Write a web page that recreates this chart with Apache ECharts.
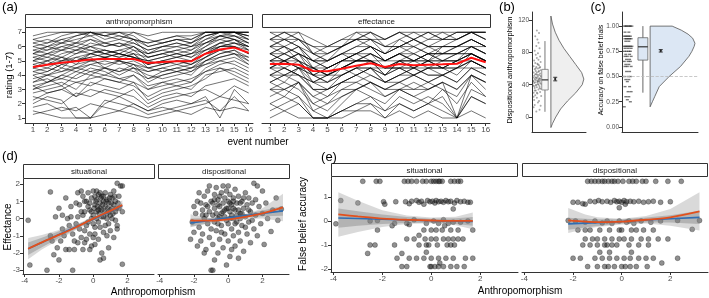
<html>
<head>
<meta charset="utf-8">
<title>anthropomorphism / effectance figure</title>
<script src="https://cdn.jsdelivr.net/npm/echarts@6/dist/echarts.min.js"></script>
</head>
<body style="margin:0">
<div id="main" style="width:709px;height:298px"></div>
<script>
// ---- data ----
var aEvents = [1,2,3,4,5,6,7,8,9,10,11,12,13,14,15,16];
var aTicksY = [1,2,3,4,5,6,7];
var aAnthroMean = [4.57,4.73,4.87,4.97,5.1,5.13,5.13,5.13,4.85,4.92,4.97,4.97,5.5,5.8,5.93,5.57];
var aEffectMean = [4.78,4.8,4.73,4.29,4.27,4.45,4.66,4.83,4.57,4.78,4.69,4.73,4.76,4.8,5.22,4.9];

// individual participants (a subset of the lines)
var aAnthroRows = [
[6.5,6.75,7,7,7,6.75,7,6.5,6.25,6.5,6.75,6.5,7,7,7,7],
[5.5,5.75,6,6.25,6.5,6,6.25,6,5.5,5.75,6,5.75,6.5,7,7,6.5],
[4.5,5,5.25,4.75,5.5,5.25,5,5.5,4.75,5,5.25,5,5.75,6.25,6.5,6],
[3,3.5,4,3.75,4.25,4.5,4,4.5,3.5,4,4.25,4,5,5.5,5.75,5],
[6,6.25,6.5,6.75,7,6.5,6.75,6.5,6,6.25,6.5,6.25,6.75,7,7,6.75],
[5,5.25,5,5.5,5.75,5.5,5.25,5.75,5,5.25,5.5,5.25,6,6.5,6.25,6],
[2,2.5,2.25,1,1,2,2.5,2,1.5,2,2.25,2,2.5,1,3,2],
[4,4.25,4.75,5,5.25,4.5,5,4.75,4.25,4.5,4.75,4.5,5.25,6,6,5.5],
[5.75,6,6.25,6.5,6.75,6.25,6.5,6.25,5.75,6,6,6.25,6.75,7,7,6.75],
[3.5,3.75,3.25,4,4.5,4.25,3.75,4,3,3.5,3.75,3.5,4.5,5,4.75,4.25],
[1.5,1.25,1,1,1,1.25,1.5,1.25,1,1.25,1.5,1.25,1.75,1.5,1.75,1.5],
[6.75,7,7,7,7,7,7,7,6.75,7,7,7,7,7,7,7],
[4.75,5,4.5,5.25,5.5,5.75,5.5,5.25,5,4.75,5,4.75,5.5,6,6.25,5.75],
[2.75,3,3.25,2.5,3.5,3.25,3,3.5,2.25,2.75,3,3.25,3.75,4.5,4,3.5],
[5.25,5.5,5.75,6,5.75,5.5,5.75,5.5,5.25,5.5,5.25,5.5,6.25,6.75,6.5,6.25],
[4.25,4,4.5,4.25,4.75,5,4.75,5,4.5,4.25,4.5,4.75,5.25,5.75,5.5,5.25],
[3.25,2.75,3,3.5,3.25,3.75,3.5,3.25,2.5,3,3.25,3,4,4.25,4.5,4],
[6.25,6.5,6.25,6.75,7,6.75,6.5,7,6.5,6.25,6.5,6.5,7,7,7,7],
[5,4.75,5.25,5,5.5,5.25,5.5,5.25,4.75,5,5.25,5.5,5.75,6.25,6.5,5.75],
[2.5,2.25,2,2.75,2.5,3,2.75,2.5,1.75,2.25,2.5,2.75,3,2.5,3.25,2.75],
[4.5,4.75,5,5.25,5,5.25,5.5,5.25,4.75,5,4.75,5,5.5,6,6,5.75],
[5.5,6,5.75,6.25,6,6.25,6,6.25,5.75,6,6.25,6,6.5,6.75,7,6.5],
[3.75,4,4.25,4.5,4.75,4.5,4.25,4.5,4,3.75,4,4.25,4.75,5.25,5.5,5],
[1.75,2,1.5,1.75,1,2.25,2,1.75,1.25,1.5,1.75,2,2.25,1.5,2.5,1.5],
[6,5.75,6.25,6,6.5,6.25,6,6.5,5.5,6,6.25,6,6.75,7,6.75,6.5],
[4.25,4.5,4.25,4.75,5,4.75,5,4.5,4.25,4.5,4.25,4.5,5,5.5,5.75,5.25],
[5.25,5,5.5,5.75,6,5.5,5.75,6,5.25,5.5,5.75,5.5,6,6.75,6.75,6.25],
[3,3.25,3.5,3,4,3.75,3.5,4,3.25,3.5,3.25,3.5,4.25,4.75,5,4.5],
[6.5,6.25,6.75,7,6.75,7,6.75,6.5,6.25,6.5,6.75,6.75,7,7,7,7],
[4.75,4.5,5,5,5.25,5.5,5.25,5.5,4.5,4.75,5,5,5.5,6.25,6,5.5],
[2.25,2.75,3,2.5,3,2.75,2.5,3,2,2.5,2.75,2.5,3.25,3.5,3.75,3.25],
[5.75,5.5,6,5.75,6.25,6,6.25,5.75,5.5,5.75,5.5,5.75,6.25,6.5,6.75,6.25],
[3.5,4,3.75,4.25,4,4.5,4.25,4.75,3.75,4.25,4.5,4.25,5,5.25,5.5,4.75],
[5,5.5,5.25,5.75,5.5,5.75,5.5,5.25,5,5.25,5.5,5.25,5.75,6,6.25,6],
[4,3.5,4,4.5,4.25,4,4.5,4.25,3.75,4,4.25,4.5,4.75,5,5.25,4.75],
[6.25,6,6.5,6.25,7,6.75,7,6.75,6,6.25,6.5,6.25,7,7,7,6.75],
[1.25,1.5,1.75,1.5,2,1.75,1.5,2,1.5,1.75,1.5,1.75,2,2.5,2.25,2],
[4.5,4.25,4.75,4.5,5,5.25,5,4.75,4.5,4.75,5,4.75,5.25,5.75,6,5.5],
[5.5,5.25,5.75,5.5,6,5.75,5.5,6,5.25,5.5,5.75,6,6.25,6.75,6.5,6],
[3.25,3.5,3.75,3.5,3.75,4,3.75,3.5,3,3.25,3.5,3.75,4.25,4.5,4.25,3.75]
];
var aEffectRows = [
[5.5,6,5,4,4.5,5,5.5,6,5,5.5,5,5.5,5,5,6,5.5],
[6.5,7,7,5.5,5,6,6.5,7,6,6.5,7,6.5,7,6.5,7,7],
[4,4.5,4,3,2.5,3.5,4,4.5,3.5,4,4.5,4,4,4.5,5,4.5],
[3,2.5,3.5,1.5,1,2,3,3.5,2.5,3,2.5,3,3.5,1,4,3],
[5,5.5,6,4.5,5,5.5,5,5.5,5,5,5.5,6,5.5,6,6.5,6],
[6,5.5,6,5,4.5,5,5.5,6,5.5,6,5.5,5,6,6,6.5,6],
[2,2.5,2,1,1,1.5,2,2.5,1.5,2.5,2,2.5,2,1,3,2.5],
[4.5,5,4.5,4,3.5,4.5,5,5,4,5,4.5,5,5,5.5,5.5,5],
[7,7,6.5,6,6,6.5,7,7,6.5,7,7,7,6.5,7,7,7],
[3.5,4,3.5,2.5,3,3.5,4,3.5,3,3.5,4,3.5,4,3.5,4.5,4],
[5,4.5,5,4.5,4,4.5,5,5,4.5,5,4.5,5,4.5,5,5.5,5],
[6,6.5,6,5,5.5,6,6.5,6,5.5,6,6.5,6,6.5,6.5,7,6.5],
[4,3.5,4.5,3.5,3,4,4.5,4,3.5,4,4,4.5,4,4.5,5,4.5],
[1.5,2,2.5,1,1,1.5,2,2,1,2,1.5,2,2.5,1,2.5,2],
[5.5,5,5.5,5,4.5,5,5.5,5.5,5,5.5,5,5.5,5.5,5.5,6,5.5],
[6.5,6,6.5,5.5,6,6,6.5,6.5,6,6,6.5,6,6,6.5,7,6.5],
[3,3.5,3,2,2.5,3,3,3.5,3,3,3.5,3,3.5,3,4,3.5],
[4.5,4,4.5,4.5,4,4.5,4,4.5,4.5,4.5,4,4.5,4.5,5,5,4.5],
[5.5,6,5.5,4.5,4,5,5.5,6,5,5.5,6,5.5,5.5,6,6,6],
[2.5,3,2.5,1.5,2,2.5,3,2.5,2,3,2.5,2,3,2,3.5,2.5],
[5,5,5.5,4,4,4.5,5,5,4.5,5,5,5,5,5,5.5,5],
[7,6.5,7,6.5,6,6.5,6.5,7,6.5,7,6.5,7,7,7,7,7],
[4,4.5,4,3.5,3.5,4,4.5,4.5,4,4.5,4,4.5,4.5,4,5,4.5],
[3.5,3,3.5,2,1.5,2.5,3,3.5,3,3.5,3,3.5,3,2.5,4,3.5],
[6,6,5.5,5,5,5.5,6,6,5.5,6,6,5.5,6,6,6.5,6],
[4.5,5,5,3.5,4,4.5,5,5,4.5,4.5,5,5,4.5,5,5.5,5],
[5.5,5.5,5,4.5,4.5,5,5,5.5,5,5.5,5.5,5,5.5,5.5,6,5.5],
[2,1.5,2,1,1,1.5,1.5,2,1.5,2,1.5,2,1.5,1,2.5,2],
[6.5,6.5,6,5.5,5.5,6,6.5,6.5,5.5,6.5,6,6.5,6.5,6.5,7,6.5],
[4,4,4.5,3,3,3.5,4,4.5,3.5,4,4.5,4,4,4.5,4.5,4.5],
[5,5.5,5,4,4.5,5,5,5.5,4.5,5,5,5.5,5,5.5,5.5,5],
[3,3,3.5,2.5,2,3,3.5,3,2.5,3,3,3,3.5,3,4,3.5],
[6,6.5,6.5,5.5,5,5.5,6,6.5,6,6,6.5,6,6,6,6.5,6],
[4.5,4.5,4,3.5,4,4,4.5,4.5,4,4.5,4.5,4.5,4.5,4.5,5,4.5],
[5.5,5,5.5,5,5,5.5,5.5,5,5,5.5,5,5.5,5.5,5.5,6,5.5],
[1,1.5,1,1,1,1,1.5,1.5,1,1.5,1,1.5,1,1,1.5,1],
[5,5,4.5,4.5,4,4.5,5,5,4,5,5,4.5,5,5,5.5,5],
[6.5,7,6.5,6,5.5,6,7,6.5,6.5,7,6.5,7,6.5,7,7,7],
[3.5,4,4,3,3,3.5,3.5,4,3.5,3.5,4,3.5,4,3.5,4.5,4],
[4.5,5,4.5,4,3.5,4,4.5,5,4.5,4.5,4.5,5,4.5,4.5,5.5,5]
];

// (b) dispositional anthropomorphism: jittered points [jitter, value]
var bTicks = [0,40,80,120];
var bPoints = [[3,12],[8,7],[14,9],[5,15],[11,18],[16,14],[4,21],[9,24],[13,20],[17,26],[6,27],[10,29],[15,31],[3,30],[7,33],[12,34],[16,35],[5,36],[9,37],[14,38],[2,39],[8,40],[11,41],[17,41],[4,42],[6,43],[10,43],[13,44],[15,45],[3,45],[7,46],[12,46],[16,47],[5,47],[9,48],[14,48],[2,49],[8,49],[11,50],[17,50],[4,51],[10,52],[13,52],[6,53],[15,54],[3,55],[9,55],[12,56],[7,57],[16,58],[5,59],[11,60],[14,61],[8,62],[3,63],[13,64],[10,66],[6,67],[16,68],[4,70],[12,71],[9,73],[15,75],[7,77],[11,79],[5,82],[14,85],[8,88],[12,92],[10,96],[6,100],[13,104],[9,107],[4,38],[7,39],[12,40],[15,42],[2,44],[10,45],[13,47],[6,49],[16,51],[8,53],[11,44],[14,36],[5,33],[9,30],[13,57],[7,60],[3,25],[11,65],[15,62]];
var bBox = [6.5, 33.5, 46, 59, 94];          // min, q1, median, q3, max
var bMean = [47, 44.8, 49.2];                 // mean, lower, upper
var bDensY = [-13,-8,0,10,20,30,40,47,55,65,75,85,95,105,115,125];
var bDensW = [0,3,9,18,31,46,58,61,57,46,35,24,15,8,3,0];

// (c) accuracy on false belief trials
var cTicks = [0,0.25,0.5,0.75,1];
var cPoints = [[3,1],[5,1],[6,1],[8,1],[10,1],[11,1],[13,1],[4,0.94],[9,0.94],[3,0.9],[5,0.9],[7,0.9],[9,0.9],[11,0.9],[4,0.875],[6,0.875],[8,0.875],[10,0.875],[12,0.875],[5,0.85],[9,0.85],[3,0.8],[5,0.8],[7,0.8],[9,0.8],[11,0.8],[13,0.8],[4,0.78],[8,0.78],[12,0.78],[3,0.75],[6,0.75],[9,0.75],[11,0.75],[5,0.72],[10,0.72],[4,0.7],[7,0.7],[12,0.7],[6,0.67],[10,0.67],[3,0.65],[8,0.65],[11,0.65],[5,0.62],[9,0.62],[4,0.6],[7,0.6],[12,0.6],[6,0.55],[10,0.55],[3,0.5],[8,0.5],[11,0.5],[5,0.47],[9,0.47],[7,0.45],[4,0.4],[10,0.4],[8,0.35],[12,0.35],[5,0.3],[9,0.3],[7,0.27],[11,0.25],[3,0.2]];
var cBox = [0.34, 0.663, 0.795, 0.885, 1.0];
var cMean = [0.755, 0.743, 0.767];
var cDensY = [0.2,0.25,0.3,0.4,0.5,0.6,0.7,0.75,0.8,0.83,0.88,0.92,0.96,1.0];
var cDensW = [0,3,6,12,25,40,51,55,58,59,56,50,41,29];

// (d) effectance vs anthropomorphism
var dTicksX = [-4,-2,0,2];
var dTicksY = [-3,-2,-1,0,1,2];
var dSitPoints = [[-3.8,-0.1],[-3.7,-2.7],[-2.7,-3.0],[-2.5,1.55],[-1.2,-3.0],[1.7,-2.65],[-2.0,0.6],[-2.2,0.1],[-1.8,0.2],[-1.6,1.2],[-1.5,0.0],[-1.3,0.7],[-2.4,-1.3],[-2.3,-2.1],[-2.1,-1.7],[-2.0,-2.4],[-1.9,-1.3],[-1.7,-1.0],[-1.6,-1.8],[-1.4,-1.8],[-1.2,-0.9],[-1.1,-1.3],[-1.0,-0.3],[-0.9,0.1],[-0.8,-0.6],[-0.8,0.8],[-0.7,1.6],[-0.6,1.3],[-0.5,-1.4],[-0.5,0.4],[-0.4,1.0],[-0.3,-0.2],[-0.3,1.5],[-0.2,0.5],[-0.2,-0.9],[-0.1,1.2],[-0.1,-1.6],[0.0,0.2],[0.0,1.6],[0.1,0.8],[0.1,-0.5],[0.2,1.1],[0.2,0.4],[0.3,1.4],[0.3,-0.2],[0.4,0.9],[0.4,0.6],[0.5,1.3],[0.5,0.1],[0.6,1.0],[0.6,-0.8],[0.7,0.7],[0.7,1.5],[0.8,0.3],[0.8,1.1],[0.9,0.9],[0.9,-0.3],[1.0,1.4],[1.0,0.5],[1.1,1.2],[1.1,0.0],[1.2,0.8],[1.2,1.6],[1.3,0.4],[1.3,1.0],[1.4,2.05],[1.4,-0.6],[1.5,1.3],[1.5,0.6],[1.6,1.9],[1.7,0.4],[1.7,1.9],[-0.6,-1.8],[-0.4,-1.2],[-0.2,-1.8],[0.0,-1.1],[0.1,-1.5],[0.3,-1.2],[0.5,-2.0],[0.6,-2.3],[0.8,-1.0],[0.9,-1.7],[1.0,-0.7],[1.2,-1.1],[1.4,-0.4],[-1.0,0.9],[-0.9,1.5],[-0.6,0.2],[-0.4,-0.4],[-0.1,0.0],[0.05,0.6],[0.15,1.0],[0.25,0.7],[0.35,0.3],[0.45,1.2],[0.55,0.8],[0.65,0.4],[0.75,1.0],[0.85,0.6],[0.95,1.2],[1.05,0.9],[1.15,0.3],[1.25,1.3],[1.35,0.6],[1.45,0.9],[0.2,0.0],[0.4,-0.5],[0.6,0.1],[-0.3,0.7],[-0.5,1.0],[-0.7,0.4],[-1.4,-0.4],[-1.8,-0.6],[-2.5,-1.0],[-1.3,0.1],[-0.9,-1.4],[-0.2,0.9],[0.0,-0.3],[0.3,0.5],[0.7,-0.4],[1.0,0.2],[1.3,-0.1],[0.1,1.3],[0.5,0.5],[0.8,0.0],[-0.1,0.4],[0.6,1.3],[0.9,0.4],[1.1,0.6],[0.2,1.6],[0.4,1.5],[-1.1,-1.8],[-0.7,-1.1],[0.1,-0.9],[0.4,-2.4],[-0.5,-0.7]];
var dDisPoints = [[-2.2,-1.2],[-2.1,-0.2],[-2.0,0.7],[-1.9,0.3],[-1.8,1.0],[-1.7,-0.5],[-1.6,-1.3],[-1.5,0.5],[-1.5,-0.9],[-1.4,1.3],[-1.4,0.0],[-1.3,-1.8],[-1.3,0.8],[-1.2,-0.3],[-1.2,1.6],[-1.1,0.4],[-1.1,-1.1],[-1.0,-3.0],[-1.0,1.0],[-0.9,-3.0],[-0.9,0.2],[-0.9,-1.5],[-0.8,-2.4],[-0.8,1.4],[-0.8,0.6],[-0.7,-0.7],[-0.7,1.8],[-0.6,0.0],[-0.6,1.1],[-0.6,-2.0],[-0.5,0.7],[-0.5,-1.2],[-0.4,1.5],[-0.4,0.3],[-0.4,-0.4],[-0.3,0.9],[-0.3,-1.7],[-0.2,1.2],[-0.2,0.1],[-0.2,-0.9],[-0.1,-2.7],[-0.1,0.6],[-0.1,1.6],[0.0,-0.3],[0.0,1.0],[0.0,-1.3],[0.1,0.4],[0.1,1.4],[0.1,-2.2],[0.2,-0.6],[0.2,0.8],[0.3,1.2],[0.3,-1.0],[0.3,0.0],[0.4,0.5],[0.4,1.7],[0.4,-1.6],[0.5,-0.2],[0.5,0.9],[0.6,1.3],[0.6,-0.8],[0.7,0.3],[0.7,-1.3],[0.8,1.0],[0.8,-0.4],[0.9,0.6],[0.9,-1.9],[1.0,1.5],[1.0,0.1],[1.1,-0.9],[1.1,0.8],[1.2,1.2],[1.2,-0.2],[1.3,0.4],[1.3,-1.4],[1.4,0.9],[1.5,2.05],[1.5,-0.6],[1.6,0.2],[1.7,1.9],[1.7,-1.0],[1.8,0.7],[1.9,-0.3],[2.0,1.6],[2.0,0.3],[2.1,-1.5],[2.2,0.9],[2.3,0.0],[2.5,-0.75],[2.6,0.5],[2.8,1.2],[2.9,-0.1],[3.1,0.55],[-1.6,0.9],[-1.3,0.2],[-1.0,-0.6],[-0.7,0.3],[-0.5,1.3],[-0.3,0.4],[-0.1,-0.1],[0.1,0.9],[0.3,0.6],[0.5,0.2],[0.7,0.9],[0.9,1.2],[-1.7,1.5],[-1.1,1.9],[-0.6,0.8],[-0.2,0.5],[0.2,0.2],[0.6,0.5],[-0.9,0.9],[-0.4,-0.8],[0.0,0.6],[0.4,-0.3],[0.8,0.3],[-1.8,-1.6],[-1.4,-2.0],[-0.8,-0.2],[0.2,-1.8],[0.6,-2.3],[1.0,-0.5],[1.4,-0.1],[-0.3,1.9],[0.0,1.9],[-1.2,0.7],[-0.8,1.1],[0.3,1.0],[0.7,0.0],[1.2,0.5],[-0.5,0.1],[-1.5,0.2],[-2.0,-0.8],[1.6,1.1],[-0.6,-0.3],[0.1,0.0]];
var dSitX = [-3.8,-3,-2,-1,0,1,1.7];
var dSitLoess = [-1.75,-1.38,-0.95,-0.5,0.0,0.45,0.78];
var dSitLm = [-1.75,-1.39,-0.93,-0.48,-0.02,0.43,0.75];
var dSitLoessSe = [0.62,0.42,0.28,0.16,0.1,0.15,0.28];
var dSitLmSe = [0.36,0.28,0.2,0.12,0.07,0.1,0.16];
var dDisX = [-2.2,-1.5,-1,0,1,2,3.2];
var dDisLoess = [-0.1,-0.12,-0.12,-0.05,0.1,0.3,0.65];
var dDisLm = [-0.25,-0.16,-0.09,0.04,0.17,0.3,0.45];
var dDisLoessSe = [0.35,0.22,0.16,0.1,0.13,0.3,0.8];
var dDisLmSe = [0.25,0.18,0.13,0.08,0.1,0.17,0.28];

// (e) false belief accuracy vs anthropomorphism
var eTicksY = [-2,-1,0,1];
var eSitPoints = [[-2.8,1.65],[-2.25,1.65],[-2.1,1.65],[-1.1,1.65],[-0.95,1.65],[-0.8,1.65],[-0.6,1.65],[-0.35,1.65],[-0.2,1.65],[0,1.65],[0.1,1.65],[0.2,1.65],[0.3,1.65],[0.35,1.65],[0.45,1.65],[0.8,1.65],[0.95,1.65],[1.1,1.65],[1.2,1.65],
[-3.7,0.85],[-3.0,0.75],[-1.95,0.8],[-1.9,0.7],[-1.45,0.8],[-1.05,0.8],[-0.9,0.72],[-0.8,0.82],[-0.6,0.85],[-0.5,0.78],[-0.4,0.82],[-0.3,0.7],[-0.15,0.85],[-0.05,0.8],[0.05,0.82],[0.15,0.75],[0.2,0.85],[0.3,0.8],[0.4,0.82],[0.5,0.78],[0.6,0.85],[0.7,0.8],[0.8,0.82],[0.9,0.5],[0.95,0.75],[1.05,0.85],[1.2,0.8],[1.35,0.82],[1.5,0.78],[1.6,0.78],
[-3.9,-0.12],[-2.5,0.0],[-2.2,0.02],[-1.5,-0.1],[-1.0,-0.1],[-0.9,-0.15],[-0.7,0.05],[-0.2,-0.1],[0.1,0.0],[0.3,-0.1],[0.5,0.05],[0.7,-0.1],[0.9,-0.05],[1.2,-0.05],[1.5,0.0],
[-2.2,-0.38],[-0.3,-0.38],[0.0,-0.38],[0.2,-0.38],[0.45,-0.38],[0.8,-0.38],[1.1,-0.38],[1.7,-0.38],
[-1.0,-0.75],[-0.7,-0.75],[-0.25,-0.75],[0.0,-0.75],[0.2,-0.75],[0.5,-0.75],[0.7,-0.75],[0.9,-0.75],[1.1,-0.75],[1.3,-0.75],
[-2.5,-1.0],[-2.3,-1.0],[-1.5,-1.0],[-0.5,-1.0],[-0.2,-1.0],[-0.1,-1.0],[0.25,-1.0],[0.65,-1.0],[0.8,-1.0],[0.95,-1.0],
[-2.6,-1.35],[-1.2,-1.35],
[-1.4,-1.55],[-0.9,-1.55],[-0.6,-1.55],[-0.3,-1.55],[0.0,-1.55],[0.3,-1.55],[0.6,-1.55],[0.9,-1.55],[1.4,-1.55],[1.7,-1.55],
[-1.2,-1.9],[-1.0,-1.9],[-0.05,-1.9],[0.0,-1.9],[0.15,-1.9],[0.3,-1.9],[0.5,-1.9],[0.8,-1.9],[1.05,-1.9],[1.35,-1.9],
[-1.6,-0.2],[-0.5,-0.6],[0.35,-1.75],[-0.2,-1.3],[0.55,-0.2]];
var eDisPoints = [[-1.4,1.65],[-1.25,1.65],[-1.1,1.65],[-0.95,1.65],[-0.8,1.65],[-0.7,1.65],[-0.55,1.65],[-0.4,1.65],[-0.3,1.65],[-0.15,1.65],[0.05,1.65],[0.3,1.65],[0.45,1.65],[0.6,1.65],[0.85,1.65],[1.0,1.65],[1.4,1.65],[1.9,1.65],[2.45,1.65],
[-2.0,0.78],[-1.8,0.78],[-1.6,0.72],[-1.5,0.7],[-1.3,0.82],[-1.1,0.8],[-0.95,0.85],[-0.8,0.8],[-0.6,0.82],[-0.45,0.78],[-0.3,0.85],[-0.2,0.8],[-0.1,0.82],[-0.1,0.55],[0.0,0.78],[0.1,0.85],[0.15,0.7],[0.2,0.8],[0.35,0.82],[0.5,0.8],[0.7,0.82],[0.9,0.78],[1.1,0.8],[1.3,0.82],[1.6,0.78],[2.0,0.8],
[-2.2,0.02],[-1.9,0.0],[-1.5,-0.05],[-1.1,0.0],[-0.8,-0.08],[-0.6,0.0],[-0.4,-0.1],[-0.1,0.0],[0.2,-0.05],[0.3,0.0],[0.5,-0.1],[0.8,0.0],[1.2,-0.05],[1.6,0.0],[2.3,0.02],[2.9,-0.35],[3.2,0.02],
[-1.8,-0.38],[-1.5,-0.38],[-1.3,-0.38],[-0.9,-0.38],[-0.5,-0.38],[-0.1,-0.38],[0.0,-0.38],[0.4,-0.38],[0.6,-0.38],[0.9,-0.38],[1.3,-0.38],
[-1.5,-0.75],[-1.2,-0.75],[-1.0,-0.75],[-0.7,-0.75],[-0.4,-0.75],[-0.1,-0.75],[0.1,-0.75],[0.4,-0.75],[0.8,-0.75],[1.1,-0.75],[1.5,-0.75],[1.9,-0.75],
[-1.6,-1.0],[-1.3,-1.0],[-1.0,-1.0],[-0.7,-1.0],[-0.6,-1.0],[-0.4,-1.0],[-0.2,-1.0],[0.3,-1.0],[0.7,-1.0],[1.1,-1.0],
[-0.9,-1.3],[-0.5,-1.3],[0.4,-1.3],
[-2.0,-1.55],[-1.7,-1.55],[-1.1,-1.55],[-0.8,-1.55],[-0.5,-1.55],[-0.2,-1.55],[0.1,-1.55],[0.35,-1.55],[0.7,-1.55],[1.0,-1.55],[1.3,-1.55],[2.3,-1.55],
[-1.4,-1.9],[-1.0,-1.9],[-0.7,-1.9],[-0.55,-1.9],[-0.3,-1.9],[0.0,-1.9],[0.15,-1.9],[0.35,-1.9],[0.6,-1.9],[1.05,-1.9],[1.65,-1.75]];
var eSitX = [-3.8,-3,-2,-1,0,1,1.7];
var eSitLoess = [0.27,0.19,0.1,0.05,0.02,0.0,0.0];
var eSitLm = [0.12,0.1,0.07,0.04,0.01,-0.01,-0.02];
var eSitLoessSe = [0.93,0.65,0.35,0.18,0.12,0.18,0.35];
var eSitLmSe = [0.4,0.3,0.2,0.12,0.08,0.12,0.18];
var eDisX = [-2.2,-1.5,-1,0,1,2,3.2];
var eDisLoess = [0.02,-0.03,-0.05,-0.03,0.05,0.15,0.4];
var eDisLm = [-0.12,-0.09,-0.07,-0.02,0.04,0.09,0.15];
var eDisLoessSe = [0.52,0.3,0.2,0.12,0.16,0.35,0.8];
var eDisLmSe = [0.25,0.18,0.14,0.09,0.1,0.15,0.28];

// ---- chart ----
var FONT = 'Liberation Sans, Arial, sans-serif';
var AXC = '#333';
var LBC = '#4d4d4d';
var RED = '#e2501d';
var BLUE = '#2f6db3';

var myChart = echarts.init(document.getElementById('main'), null, {renderer: 'canvas'});

function valAxis(gi, min, max, ticks, opt) {
	opt = opt || {};
	return {
		type: 'value', gridIndex: gi, min: min, max: max,
		show: opt.hide ? false : true,
		axisLine: {show: true, onZero: false, lineStyle: {color: AXC, width: 1}},
		axisTick: {show: !!ticks, length: 3, lineStyle: {color: AXC, width: 1}, customValues: ticks || undefined},
		axisLabel: {show: !!ticks, customValues: ticks || undefined, fontSize: opt.fs || 8, color: LBC,
			fontFamily: FONT, margin: opt.margin || 3, formatter: opt.fmt},
		splitLine: {show: false}
	};
}

var grids = [
	{left: 25, top: 28, width: 228, height: 95},    // a left
	{left: 262, top: 28, width: 228, height: 95},   // a right
	{left: 532, top: 12, width: 54, height: 120},   // b
	{left: 622, top: 12, width: 76, height: 120},   // c
	{left: 23, top: 179, width: 131, height: 95},   // d left
	{left: 158, top: 179, width: 131, height: 95},  // d right
	{left: 331, top: 177, width: 187, height: 95},  // e left
	{left: 522, top: 177, width: 186, height: 95}   // e right
];
grids.forEach(function (g) { g.containLabel = false; g.outerBoundsMode = 'none'; });

var xAxes = [
	valAxis(0, 0.45, 16.3, aEvents),
	valAxis(1, 0.45, 16.3, aEvents),
	valAxis(2, 0, 100, null),
	valAxis(3, 0, 100, null),
	valAxis(4, -4.1, 3.55, dTicksX),
	valAxis(5, -4.1, 3.55, dTicksX),
	valAxis(6, -4.1, 3.55, dTicksX),
	valAxis(7, -4.1, 3.55, dTicksX)
];
var yAxes = [
	valAxis(0, 0.65, 7.3, aTicksY),
	valAxis(1, 0.65, 7.3, null, {hide: true}),
	valAxis(2, -18.5, 130, bTicks, {fs: 6.5}),
	valAxis(3, -0.05, 1.14, cTicks, {fs: 6.5, fmt: function (v) { return v.toFixed(2); }}),
	valAxis(4, -3.22, 2.3, dTicksY),
	valAxis(5, -3.22, 2.3, null, {hide: true}),
	valAxis(6, -2.125, 1.83, eTicksY),
	valAxis(7, -2.125, 1.83, null, {hide: true})
];

var series = [];

// (a) spaghetti + mean
function spag(gi, row) {
	return {type: 'line', xAxisIndex: gi, yAxisIndex: gi, silent: true, symbol: 'none', z: 2,
		data: row.map(function (v, i) { return [aEvents[i], v]; }),
		lineStyle: {color: 'rgba(0,0,0,0.55)', width: 1}};
}
aAnthroRows.forEach(function (r) { series.push(spag(0, r)); });
aEffectRows.forEach(function (r) { series.push(spag(1, r)); });
[aAnthroMean, aEffectMean].forEach(function (m, gi) {
	series.push({type: 'line', xAxisIndex: gi, yAxisIndex: gi, silent: true, symbol: 'none', z: 5,
		data: m.map(function (v, i) { return [aEvents[i], v]; }),
		lineStyle: {color: '#ff1010', width: 2}});
});

// polygon through the library's scale
function polygon(gi, pts, fill, stroke, z) {
	return {type: 'custom', xAxisIndex: gi, yAxisIndex: gi, silent: true, z: z, data: [pts[0]],
		renderItem: function (params, api) {
			return {type: 'polygon', shape: {points: pts.map(function (p) { return api.coord(p); })},
				style: {fill: fill, stroke: stroke, lineWidth: stroke ? 0.8 : 0}};
		}};
}
function halfViolin(gi, base, ys, ws, fill) {
	var pts = ys.map(function (y, i) { return [base + ws[i], y]; });
	pts.push([base, ys[ys.length - 1]]);
	pts.push([base, ys[0]]);
	return polygon(gi, pts, fill, '#555', 3);
}
function boxplot(gi, x0, x1, b, fill, stroke) {
	var xc = (x0 + x1) / 2;
	return {type: 'custom', xAxisIndex: gi, yAxisIndex: gi, silent: true, z: 4, data: [[xc, b[2]]],
		renderItem: function (params, api) {
			var w0 = api.coord([xc, b[0]]), w1 = api.coord([xc, b[4]]);
			var tl = api.coord([x0, b[3]]), br = api.coord([x1, b[1]]);
			var m0 = api.coord([x0, b[2]]), m1 = api.coord([x1, b[2]]);
			return {type: 'group', children: [
				{type: 'line', shape: {x1: w0[0], y1: w0[1], x2: w1[0], y2: w1[1]}, style: {stroke: stroke, lineWidth: 1}},
				{type: 'rect', shape: {x: tl[0], y: tl[1], width: br[0] - tl[0], height: br[1] - tl[1]},
					style: {fill: fill, stroke: stroke, lineWidth: 0.8}},
				{type: 'line', shape: {x1: m0[0], y1: m0[1], x2: m1[0], y2: m1[1]}, style: {stroke: '#333', lineWidth: 1.2}}
			]};
		}};
}
function meanBar(gi, x, m) {
	return {type: 'custom', xAxisIndex: gi, yAxisIndex: gi, silent: true, z: 6, data: [[x, m[0]]],
		renderItem: function (params, api) {
			var c = api.coord([x, m[0]]), lo = api.coord([x, m[1]]), hi = api.coord([x, m[2]]);
			var s = {stroke: '#222', lineWidth: 0.9};
			return {type: 'group', children: [
				{type: 'line', shape: {x1: lo[0], y1: lo[1], x2: hi[0], y2: hi[1]}, style: s},
				{type: 'line', shape: {x1: lo[0] - 2, y1: lo[1], x2: lo[0] + 2, y2: lo[1]}, style: s},
				{type: 'line', shape: {x1: hi[0] - 2, y1: hi[1], x2: hi[0] + 2, y2: hi[1]}, style: s},
				{type: 'circle', shape: {cx: c[0], cy: c[1], r: 1.1}, style: {fill: '#222'}}
			]};
		}};
}

// (b)
series.push({type: 'scatter', xAxisIndex: 2, yAxisIndex: 2, silent: true, z: 2, data: bPoints,
	symbolSize: 2, itemStyle: {color: 'rgba(60,60,60,0.55)'}});
series.push(boxplot(2, 18, 30, bBox, '#f6f6f6', '#777'));
series.push(halfViolin(2, 35, bDensY, bDensW, '#efefef'));
series.push(meanBar(2, 43, bMean));

// (c)
series.push({type: 'scatter', xAxisIndex: 3, yAxisIndex: 3, silent: true, z: 2, data: cPoints,
	symbol: 'rect', symbolSize: [3, 1.4], itemStyle: {color: 'rgba(30,30,30,0.75)'},
	markLine: {silent: true, symbol: 'none', label: {show: false}, data: [{yAxis: 0.5}],
		lineStyle: {color: '#bbb', type: 'dashed', width: 0.8}}});
series.push(boxplot(3, 21, 34, cBox, '#dce7f4', '#666'));
series.push(halfViolin(3, 37, cDensY, cDensW, '#dce7f4'));
series.push(meanBar(3, 51, cMean));

// (d), (e) scatter with fits
function facet(gi, pts, xs, loess, lm, loessSe, lmSe) {
	series.push({type: 'scatter', xAxisIndex: gi, yAxisIndex: gi, silent: true, z: 2, data: pts,
		symbolSize: 5, itemStyle: {color: 'rgba(30,30,30,0.62)', borderColor: 'rgba(0,0,0,0.65)', borderWidth: 0.5}});
	function band(fit, se) {
		var up = xs.map(function (x, i) { return [x, fit[i] + se[i]]; });
		var dn = xs.map(function (x, i) { return [x, fit[i] - se[i]]; }).reverse();
		return up.concat(dn);
	}
	series.push(polygon(gi, band(loess, loessSe), 'rgba(160,160,160,0.4)', null, 3));
	series.push(polygon(gi, band(lm, lmSe), 'rgba(110,110,110,0.35)', null, 3));
	series.push({type: 'line', xAxisIndex: gi, yAxisIndex: gi, silent: true, symbol: 'none', z: 5,
		data: xs.map(function (x, i) { return [x, lm[i]]; }), lineStyle: {color: BLUE, width: 1.6}});
	series.push({type: 'line', xAxisIndex: gi, yAxisIndex: gi, silent: true, symbol: 'none', z: 6, smooth: 0.3,
		data: xs.map(function (x, i) { return [x, loess[i]]; }), lineStyle: {color: RED, width: 1.8}});
}
facet(4, dSitPoints, dSitX, dSitLoess, dSitLm, dSitLoessSe, dSitLmSe);
facet(5, dDisPoints, dDisX, dDisLoess, dDisLm, dDisLoessSe, dDisLmSe);
facet(6, eSitPoints, eSitX, eSitLoess, eSitLm, eSitLoessSe, eSitLmSe);
facet(7, eDisPoints, eDisX, eDisLoess, eDisLm, eDisLoessSe, eDisLmSe);

// strips, panel letters, axis titles
var graphic = [];
function strip(x1, x2, y1, y2, label) {
	graphic.push({type: 'rect', shape: {x: x1, y: y1, width: x2 - x1, height: y2 - y1},
		style: {fill: '#fff', stroke: '#333', lineWidth: 1}, z: 10});
	graphic.push({type: 'text', x: (x1 + x2) / 2, y: (y1 + y2) / 2 + 0.5, z: 11,
		style: {text: label, fontSize: 8, fontFamily: FONT, fill: '#1a1a1a', align: 'center', verticalAlign: 'middle'}});
}
function label(x, y, text, size, rot) {
	graphic.push({type: 'text', x: x, y: y, rotation: rot ? Math.PI / 2 : 0, z: 11,
		style: {text: text, fontSize: size, fontFamily: FONT, fill: '#000', align: 'center', verticalAlign: 'middle'}});
}
strip(25.5, 252.5, 14.5, 27.5, 'anthropomorphism');
strip(262.5, 490.5, 14.5, 27.5, 'effectance');
strip(23.5, 154.5, 164.5, 178.5, 'situational');
strip(158.5, 289.5, 164.5, 178.5, 'dispositional');
strip(331.5, 517.5, 163.5, 176.5, 'situational');
strip(522.5, 707.5, 163.5, 176.5, 'dispositional');

label(10, 7, '(a)', 13);
label(507, 7, '(b)', 13);
label(598, 7, '(c)', 13);
label(10, 156, '(d)', 13);
label(329, 157, '(e)', 13);

label(9, 75, 'rating (1-7)', 9.5, true);
label(258, 142, 'event number', 10);
label(510, 70, 'Dispositional anthropomorphism', 7.5, true);
label(601, 70, 'Accuracy on false belief trials', 7, true);
label(8, 227, 'Effectance', 10, true);
label(153, 292, 'Anthropomorphism', 10);
label(303, 224, 'False belief accuracy', 10, true);
label(520, 291, 'Anthropomorphism', 10);

myChart.setOption({
	animation: false,
	backgroundColor: '#fff',
	textStyle: {fontFamily: FONT},
	grid: grids,
	xAxis: xAxes,
	yAxis: yAxes,
	series: series,
	graphic: graphic
});
</script>
</body>
</html>
